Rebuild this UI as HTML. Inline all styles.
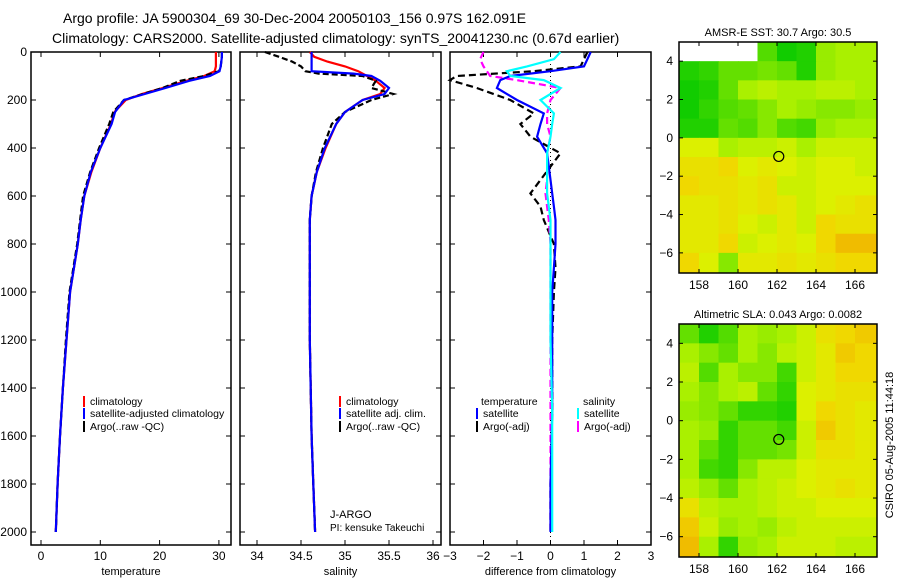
<!DOCTYPE html>
<html><head><meta charset="utf-8"><style>
body{margin:0;background:#fff;}
svg text{font-family:"Liberation Sans",sans-serif;fill:#000;}
</style></head><body>
<svg id="c" width="900" height="580" xmlns="http://www.w3.org/2000/svg">
<text x="63" y="23" font-size="14">Argo profile: JA 5900304_69 30-Dec-2004 20050103_156 0.97S 162.091E</text>
<text x="52" y="43" font-size="14">Climatology: CARS2000. Satellite-adjusted climatology: synTS_20041230.nc (0.67d earlier)</text>
<g id="g"></g>
</svg>
<script>
// ---------- data ----------
const tDepth=[0,20,40,60,80,100,120,150,175,200,250,300,400,500,600,700,800,1000,1200,1400,1600,1800,2000];
const tClim=[29.5,29.5,29.5,29.5,29.3,27.5,24.5,20.5,17,14.3,12.4,11.8,10,8.5,7.3,6.7,6.2,4.9,4.3,3.7,3.2,2.8,2.5];
const tSat=[30.5,30.5,30.4,30.3,30.1,28.5,25,21,17.5,14,12.5,11.9,10,8.4,7.3,6.7,6.2,4.9,4.3,3.7,3.2,2.8,2.5];
const tArgo=[30.5,30.5,30.4,30.3,30,27.5,23.5,20.5,17.2,14,12.2,11.5,9.8,8.3,7.1,6.6,6.1,4.8,4.2,3.7,3.2,2.8,2.5];
const sDepth=[0,20,40,60,80,90,100,120,150,175,200,250,300,400,500,600,700,800,1000,1200,1400,1600,1800,2000];
const sClim=[34.6,34.65,34.8,35.0,35.15,35.2,35.25,35.35,35.45,35.4,35.2,35.0,34.9,34.78,34.68,34.62,34.6,34.6,34.6,34.6,34.61,34.62,34.64,34.66];
const sSat=[34.62,34.62,34.62,34.62,34.62,35.1,35.3,35.4,35.5,35.45,35.2,35.0,34.9,34.77,34.68,34.62,34.6,34.6,34.6,34.6,34.61,34.62,34.64,34.66];
const sArgo=[34.09,34.25,34.4,34.5,34.55,34.7,35.2,35.35,35.3,35.55,35.3,35.0,34.85,34.75,34.67,34.62,34.6,34.6,34.6,34.6,34.61,34.62,34.64,34.66];
const dDepth=[0,30,60,80,100,117,150,200,256,300,353,422,533,589,644,700,800,900,1000,1200,1500,1800,2000];
const dTSat=[1.2,1.1,1.0,0.0,-1.2,-1.5,-1.6,-1.0,-0.2,-0.3,-0.4,-0.1,0.0,0.05,0.1,0.15,0.15,0.1,0.05,0.05,0.05,0.0,0.0];
const dTArgo=[1.1,1.0,0.9,-0.5,-2.8,-3.0,-2.2,-1.2,-0.5,-0.9,-0.6,0.3,-0.3,-0.6,-0.3,-0.2,0.1,0.15,0.1,0.05,0.05,0.0,0.0];
const dSSat=[0.3,0.1,-0.7,-1.3,-1.2,-0.2,0.3,-0.3,0.1,0.05,0.0,-0.1,-0.1,-0.1,-0.05,0,0,0,0,0,0.05,0.05,0.05];
const dSArgo=[-2.0,-2.1,-2.0,-1.9,-1.8,-1.0,0.3,0.0,-0.1,-0.1,0.0,-0.1,-0.1,-0.15,-0.1,-0.05,0,0,0,0,0,0,0];
const depthTicks=[0,200,400,600,800,1000,1200,1400,1600,1800,2000];
const tTicks=[0,10,20,30];
const sTicks=["34","34.5","35","35.5","36"];
const dTicks=[-3,-2,-1,0,1,2,3];
const lonTicks=[158,160,162,164,166];
const latTicks=[4,2,0,-2,-4,-6];
const sstGrid=[
[null,null,null,null,0.25,0.05,0.1,0.45,0.5,0.5],
[0.1,0.15,0.3,0.3,0.35,0.3,0.1,0.45,0.5,0.5],
[0.05,0.1,0.3,0.5,0.55,0.5,0.5,0.55,0.55,0.5],
[0.05,0.15,0.25,0.3,0.4,0.5,0.45,0.4,0.4,0.45],
[0.1,0.1,0.3,0.25,0.4,0.25,0.2,0.45,0.5,0.5],
[0.65,0.65,0.5,0.55,0.55,0.6,0.5,0.6,0.6,0.6],
[0.75,0.75,0.8,0.65,0.7,0.65,0.6,0.65,0.65,0.6],
[0.8,0.75,0.75,0.7,0.75,0.6,0.6,0.65,0.65,0.65],
[0.7,0.7,0.75,0.7,0.75,0.7,0.6,0.65,0.7,0.75],
[0.7,0.7,0.75,0.65,0.6,0.7,0.6,0.8,0.75,0.75],
[0.7,0.7,0.8,0.6,0.65,0.7,0.65,0.8,0.9,0.9],
[0.8,0.65,0.4,0.7,0.7,0.75,0.7,0.75,0.8,0.8]];
const slaGrid=[
[0.3,0.1,0.25,0.5,0.45,0.5,0.6,0.75,0.8,0.85],
[0.5,0.4,0.3,0.5,0.4,0.55,0.6,0.7,0.85,0.8],
[0.55,0.25,0.5,0.4,0.4,0.2,0.6,0.7,0.8,0.8],
[0.5,0.4,0.5,0.55,0.3,0.15,0.65,0.7,0.75,0.75],
[0.45,0.4,0.3,0.15,0.15,0.1,0.65,0.8,0.75,0.7],
[0.5,0.45,0.15,0.3,0.3,0.2,0.6,0.85,0.75,0.7],
[0.5,0.3,0.15,0.3,0.3,0.35,0.6,0.75,0.75,0.7],
[0.5,0.2,0.15,0.4,0.55,0.55,0.65,0.7,0.7,0.7],
[0.55,0.45,0.3,0.5,0.55,0.6,0.65,0.7,0.75,0.7],
[0.75,0.55,0.5,0.5,0.55,0.6,0.6,0.65,0.65,0.65],
[0.85,0.6,0.45,0.5,0.45,0.55,0.6,0.6,0.6,0.6],
[0.9,0.5,0.15,0.45,0.5,0.6,0.6,0.6,0.55,0.55]];
const argoLon=162.091, argoLat=-0.97;

// ---------- drawing ----------
const NS="http://www.w3.org/2000/svg";
const G=document.getElementById('g');
function el(tag,attrs,parent){const e=document.createElementNS(NS,tag);for(const k in attrs)e.setAttribute(k,attrs[k]);(parent||G).appendChild(e);return e;}
function txt(x,y,s,size,anchor,parent){const e=el('text',{x:x,y:y,'font-size':size,'text-anchor':anchor||'start'},parent);e.textContent=s;return e;}
const yD=d=>52+d*0.24;
const TOP=52,BOT=545;
function panel(name,x0,x1,xs,ticks,labels,title,showY){
  const g=el('g',{});
  
  
  el('rect',{x:x0,y:TOP,width:x1-x0,height:BOT-TOP,fill:'none',stroke:'#000','stroke-width':1.5},g);
  ticks.forEach((t,i)=>{const x=xs(t);
    el('line',{x1:x,x2:x,y1:BOT,y2:BOT-5,stroke:'#000'},g);
    el('line',{x1:x,x2:x,y1:TOP,y2:TOP+5,stroke:'#000'},g);
    const l=txt(x,560,labels[i],12,'middle',g);
    
    
  });
  depthTicks.forEach(d=>{const y=yD(d);
    el('line',{x1:x0,x2:x0+5,y1:y,y2:y,stroke:'#000'},g);
    el('line',{x1:x1,x2:x1-5,y1:y,y2:y,stroke:'#000'},g);
    if(showY){const l=txt(27,y+4,String(d),12,'end',g);
      
      }
  });
  const t=txt((x0+x1)/2,575,title,11,'middle',g);
  
  
  return g;
}
function line(g,name,xs,vals,deps,color,dash){
  const p=vals.map((v,i)=>xs(v).toFixed(1)+','+yD(deps[i]).toFixed(1)).join(' ');
  const e=el('polyline',{points:p,fill:'none',stroke:color,'stroke-width':2.2,'stroke-dasharray':dash||'none'},g);
  
  
}
function legend(g,x,y,color,label){
  el('line',{x1:x,x2:x,y1:y-9,y2:y+2,stroke:color,'stroke-width':2},g);
  const t=txt(x+6,y,label,10.5,'start',g);
  
  
}
// temperature panel
const xT=v=>41+v*5.93;
const p1=panel('temperature-panel',31,231,xT,tTicks,tTicks.map(String),'temperature',true);
line(p1,'temperature-climatology',xT,tClim,tDepth,'#f00');
line(p1,'temperature-argo',xT,tArgo,tDepth,'#000','6,3');
line(p1,'temperature-satellite',xT,tSat,tDepth,'#00f');
legend(p1,84,405,'#f00','climatology');
legend(p1,84,417,'#00f','satellite-adjusted climatology');
legend(p1,84,430,'#000','Argo(..raw -QC)');
// salinity panel
const xS=v=>257+(v-34)*88;
const p2=panel('salinity-panel',240,441,xS,sTicks.map(Number),sTicks,'salinity',false);
line(p2,'salinity-climatology',xS,sClim,sDepth,'#f00');
line(p2,'salinity-argo',xS,sArgo,sDepth,'#000','6,3');
line(p2,'salinity-satellite',xS,sSat,sDepth,'#00f');
legend(p2,340,405,'#f00','climatology');
legend(p2,340,417,'#00f','satellite adj. clim.');
legend(p2,340,430,'#000','Argo(..raw -QC)');
const ja=txt(330,518,'J-ARGO',11,'start',p2);
const pi=txt(330,531,'PI: kensuke Takeuchi',10,'start',p2);
// difference panel
const xDf=v=>450+(v+3)*33.5;
const p3=panel('difference-panel',450,651,xDf,dTicks,dTicks.map(v=>v<0?'\u2212'+(-v):String(v)),'difference from climatology',false);
el('line',{x1:xDf(0),x2:xDf(0),y1:TOP,y2:BOT,stroke:'#000','stroke-dasharray':'1,3'},p3);
line(p3,'temp-diff-argo',xDf,dTArgo,dDepth,'#000','7,4');
line(p3,'sal-diff-argo',xDf,dSArgo,dDepth,'#f0f','7,4');
line(p3,'temp-diff-satellite',xDf,dTSat,dDepth,'#00f');
line(p3,'sal-diff-satellite',xDf,dSSat,dDepth,'#0ff');
const th=txt(481,405,'temperature',10.5,'start',p3);
legend(p3,477,417,'#00f','satellite');
legend(p3,477,430,'#000','Argo(-adj)');
const sh=txt(583,405,'salinity',10.5,'start',p3);
legend(p3,578,417,'#0ff','satellite');
legend(p3,578,430,'#f0f','Argo(-adj)');
// maps
function col(v){
  const stops=[[0,[0,200,0]],[0.3,[100,224,0]],[0.5,[170,240,0]],[0.65,[220,240,0]],[0.8,[240,216,0]],[1,[240,160,0]]];
  for(let i=1;i<stops.length;i++){if(v<=stops[i][0]){const a=stops[i-1],b=stops[i],f=(v-a[0])/(b[0]-a[0]);
    return 'rgb('+a[1].map((c,k)=>Math.round(c+(b[1][k]-c)*f)).join(',')+')';}}
  return 'rgb(240,160,0)';
}
function map(name,top,bottom,grid,title){
  const g=el('g',{});
  
  
  const x0=679,x1=877;
  const xL=lon=>699+(lon-158)*19.5;
  const pxDeg=(bottom-top)/12.05;
  const yL=lat=>top+(5-lat)*pxDeg;
  grid.forEach((row,r)=>row.forEach((v,c)=>{
    if(v===null)return;
    const xa=xL(157+c),xb=c==row.length-1?x1:xL(158+c);
    const cell=el('rect',{x:Math.max(x0,xa),y:yL(5-r),width:xb-Math.max(x0,xa)+0.5,height:pxDeg+0.5,fill:col(v)},g);
    
    
  }));
  el('rect',{x:x0,y:top,width:x1-x0,height:bottom-top,fill:'none',stroke:'#000','stroke-width':1.5},g);
  lonTicks.forEach(l=>{const x=xL(l);
    el('line',{x1:x,x2:x,y1:bottom,y2:bottom-4,stroke:'#000'},g);
    el('line',{x1:x,x2:x,y1:top,y2:top+4,stroke:'#000'},g);
    txt(x,bottom+16,String(l),12,'middle',g);});
  latTicks.forEach(l=>{const y=yL(l);
    el('line',{x1:x0,x2:x0+4,y1:y,y2:y,stroke:'#000'},g);
    el('line',{x1:x1,x2:x1-4,y1:y,y2:y,stroke:'#000'},g);
    txt(673,y+4,l<0?'\u2212'+(-l):String(l),12,'end',g);});
  const m=el('circle',{cx:xL(argoLon),cy:yL(argoLat),r:5,fill:'none',stroke:'#000','stroke-width':1.2},g);
  
  
  const t=txt(778,top-6,title,11,'middle',g);
  
  
}
map('sst-map',42,273,sstGrid,'AMSR-E SST: 30.7 Argo: 30.5');
map('sla-map',324,557,slaGrid,'Altimetric SLA: 0.043 Argo: 0.0082');
const cs=txt(0,0,'CSIRO 05-Aug-2005 11:44:18',11,'middle');
cs.setAttribute('transform','translate(893,445) rotate(-90)');


</script>
</body></html>
